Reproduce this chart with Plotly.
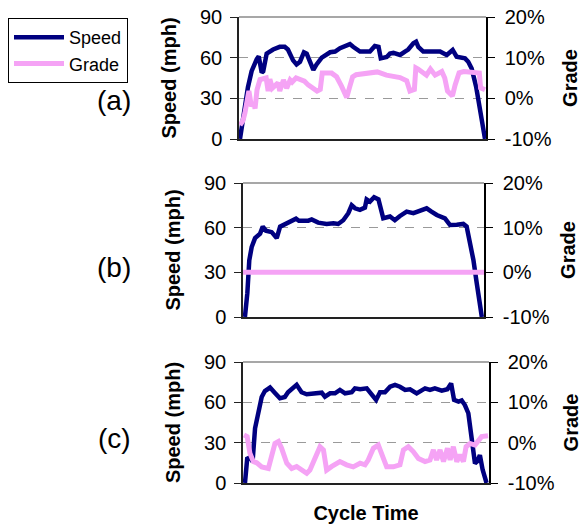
import plotly.graph_objects as go

W, H = 582, 525

# ---------------- data (cycle time normalised 0-100) ----------------
# Panel (a)
time_speed_a = [0.4, 1.5, 2.5, 3.6, 5.1, 6.5, 7.2, 8.0, 9.2, 9.8, 11.2, 13.8, 16.5, 18.5, 19.8, 21.9, 23.3,
                24.7, 26.3, 27.4, 29.0, 30.1, 31.4, 33.5, 36.9, 38.9, 40.9, 44.9, 46.2, 49.0, 53.0, 55.0,
                56.5, 57.4, 59.8, 61.1, 62.5, 65.2, 67.2, 68.5, 70.6, 71.7, 72.6, 74.6, 77.3, 81.4, 84.1,
                86.5, 88.1, 90.1, 91.5, 92.8, 94.2, 96.0, 97.6, 98.9, 99.6]
speed_a = [0, 14, 26, 38, 50, 57, 59, 61, 49, 50, 63, 66, 68, 68, 66, 58, 55,
           57, 64, 63, 55, 51, 55, 60, 64, 64.5, 67, 70, 68, 64.5, 64.5, 68.6,
           68, 59.5, 60.5, 63, 63.5, 62, 64.5, 66, 70.6, 71.8, 68, 64.5, 64.5, 64.5, 62,
           65.7, 60.7, 60, 59.5, 57, 52, 38.6, 21, 6.6, 0]
time_grade_a = [0.4, 1.6, 2.4, 3.3, 4.0, 5.0, 5.8, 6.5, 7.3, 8.5, 11.0, 11.8, 12.5, 13.5, 15.8, 16.5, 18.0,
                19.3, 20.7, 21.5, 23.1, 26.5, 28.0, 31.6, 32.9, 33.7, 34.9, 35.4, 37.5, 39.5, 41.5, 43.6,
                44.9, 46.0, 47.4, 51.5, 56.0, 59.7, 62.6, 65.2, 67.9, 69.2, 71.0, 71.6, 72.5, 75.9, 77.5,
                79.4, 82.1, 83.3, 84.4, 86.4, 87.5, 89.1, 91.0, 93.9, 97.3, 97.8, 99.6]
grade_a = [-6.6, -5.5, -3.6, 0.4, 1.8, -2.0, -1.0, -2.5, 2.1, 4.6, 5.0, 1.8, 4.7, 2.5, 3.8, 1.8, 4.5,
           2.5, 4.5, 4.0, 5.0, 4.2, 3.3, 1.8, 2.2, 6.2, 6.0, 6.2, 6.2, 5.3, 3.0, 0.2,
           3.0, 5.3, 5.8, 6.0, 6.5, 5.7, 5.4, 5.1, 4.3, 1.8, 2.2, 7.5, 7.2, 5.7, 7.2,
           5.7, 6.6, 5.0, 1.8, 0.6, 3.3, 6.3, 6.6, 6.4, 6.2, 2.6, 2.1]

# Panel (b)
time_speed_b = [0.8, 1.8, 2.6, 3.6, 5.0, 7.1, 8.2, 9.5, 11.9, 13.3, 14.0, 15.4, 18.1, 20.9, 22.0, 23.2,
                27.1, 28.5, 31.2, 34.7, 37.5, 39.5, 41.6, 43.7, 45.1, 46.5, 48.5, 50.6, 51.3, 52.7, 54.4,
                56.2, 57.1, 58.2, 61.0, 63.0, 65.0, 67.9, 70.7, 74.8, 76.2, 78.2, 80.4, 83.8, 85.9, 88.7,
                91.4, 92.8, 94.2, 95.6, 97.0, 98.1, 99.1]
speed_b = [0, 16, 38, 47, 53, 56, 60.7, 58, 57, 55, 53, 60.7, 63, 65, 66, 64.6,
           64.7, 65.5, 63.4, 62.5, 63, 62.5, 65, 69.7, 75, 73, 72, 73.5, 79, 77.5, 80.4,
           79, 72, 66.3, 67.5, 65, 67.7, 70.8, 69.8, 72, 73, 70.8, 68.5, 66.3, 61.8, 62,
           62.5, 60.7, 49.5, 38.3, 22.6, 9.2, 0]
time_grade_b = [0.0, 100.0]
grade_b = [0, 0]

# Panel (c)
time_speed_c = [0.8, 1.7, 2.8, 3.9, 4.9, 6.2, 7.6, 8.9, 11.0, 13.0, 15.0, 17.0, 18.3, 21.8, 23.8, 25.9,
                30.0, 32.0, 33.3, 35.4, 37.4, 39.4, 41.5, 44.2, 45.5, 47.6, 50.3, 52.3, 54.1, 55.7, 57.7,
                59.8, 61.8, 63.8, 65.9, 67.9, 70.6, 74.0, 76.0, 78.0, 80.8, 83.1, 84.6, 85.8, 87.6, 88.9,
                90.2, 91.6, 92.6, 93.4, 94.3, 95.2, 96.3, 97.4, 99.0]
speed_c = [0, 18, 19, 16, 40.7, 52, 64, 68.4, 71, 67, 63, 64, 67.5, 73, 67.5, 66,
           66.7, 67.2, 64.2, 66.7, 66.7, 69.2, 66.7, 67.5, 70.4, 69.7, 70.4, 66, 61.8, 67.5, 67.5,
           71.6, 73, 71.6, 69.2, 69.7, 66.7, 70.4, 69.2, 70.4, 68.7, 69.7, 74, 61.8, 60.5, 61.4,
           58, 51.9, 39.4, 25.8, 14.6, 16, 20.8, 10, 0]
time_grade_c = [0.4, 1.7, 2.8, 4.2, 5.6, 7.6, 10.3, 11.7, 13.0, 14.4, 15.7, 17.8, 19.8, 21.8, 23.9, 25.9,
                27.2, 29.3, 31.3, 32.7, 34.0, 36.1, 39.4, 42.1, 44.8, 47.6, 49.6, 50.9, 53.0, 55.0, 56.3,
                58.4, 61.1, 63.8, 65.2, 67.2, 69.2, 71.3, 74.0, 76.0, 77.4, 78.7, 80.1, 81.5, 83.1, 84.2,
                85.5, 86.9, 88.2, 89.6, 90.7, 92.3, 94.3, 95.7, 97.0, 99.6]
grade_c = [1.9, 1.5, -2.6, -4.7, -5.0, -6.0, -6.4, -2.6, -0.2, 0.3, -1.4, -5.1, -6.4, -5.9, -6.8, -7.6,
           -6.8, -3.5, -1.0, -1.8, -6.8, -5.9, -4.7, -5.5, -6.0, -5.1, -5.5, -4.3, -1.4, -0.6, -2.6,
           -6.0, -6.0, -5.5, -1.8, -1.0, -2.2, -3.9, -4.7, -4.3, -1.8, -4.3, -1.8, -4.7, -1.4, -4.3,
           -1.0, -4.7, -3.0, -4.7, -1.0, -0.2, -0.6, 0.3, 1.5, 1.7]

speed_ticks = [0, 30, 60, 90]
grade_ticks = [-10, 0, 10, 20]
grade_tick_labels = ["-10%", "0%", "10%", "20%"]
panel_labels = ["(a)", "(b)", "(c)"]

# ---------------- layout geometry (pixels) ----------------
panels = [
    dict(x0=239, x1=486, y0=17, y1=139),
    dict(x0=243, x1=484, y0=183, y1=317),
    dict(x0=243, x1=489, y0=362, y1=483),
]
label_y = [101, 267, 438]

SPEED_COLOR = "#000080"
GRADE_COLOR = "#F5A3F5"
FONT = "Liberation Sans, Arial, sans-serif"

fig = go.Figure()

data = [
    (time_speed_a, speed_a, time_grade_a, grade_a),
    (time_speed_b, speed_b, time_grade_b, grade_b),
    (time_speed_c, speed_c, time_grade_c, grade_c),
]

layout = dict(
    width=W, height=H,
    margin=dict(l=0, r=0, t=0, b=0, autoexpand=False),
    paper_bgcolor="white", plot_bgcolor="white",
    font=dict(family=FONT, size=20, color="black"),
    showlegend=True,
    legend=dict(
        x=8 / W, y=1 - 18 / H, xanchor="left", yanchor="top",
        bordercolor="black", borderwidth=1, bgcolor="white",
        font=dict(family=FONT, size=18, color="black"),
        tracegroupgap=0, itemwidth=50, entrywidth=128,
    ),
)

shapes = []
annotations = []

for i, (p, (ts, sp, tg, gr)) in enumerate(zip(panels, data)):
    n = i + 1
    xa = "x" if n == 1 else f"x{n}"
    yl_idx = 2 * i + 1
    yr_idx = 2 * i + 2
    yl = "y" if yl_idx == 1 else f"y{yl_idx}"
    yr = f"y{yr_idx}"

    fig.add_trace(go.Scatter(x=tg, y=gr, mode="lines", name="Grade",
                             line=dict(color=GRADE_COLOR, width=5),
                             xaxis=xa, yaxis=yr, showlegend=False, legendrank=2))
    fig.add_trace(go.Scatter(x=ts, y=sp, mode="lines", name="Speed",
                             line=dict(color=SPEED_COLOR, width=4.5),
                             xaxis=xa, yaxis=yl, showlegend=(i == 0), legendrank=1))
    if i == 0:
        fig.add_trace(go.Scatter(x=[None], y=[None], mode="lines", name="Grade",
                                 line=dict(color=GRADE_COLOR, width=5),
                                 xaxis=xa, yaxis=yr, showlegend=True, legendrank=2))

    xdom = [p["x0"] / W, p["x1"] / W]
    ydom = [1 - p["y1"] / H, 1 - p["y0"] / H]
    xkey = "xaxis" if n == 1 else f"xaxis{n}"
    ylkey = "yaxis" if yl_idx == 1 else f"yaxis{yl_idx}"
    yrkey = f"yaxis{yr_idx}"

    layout[xkey] = dict(
        domain=xdom, anchor=yl, range=[0, 100], automargin=False,
        showticklabels=False, ticks="", showgrid=False, zeroline=False,
        showline=True, linecolor="#222", linewidth=1.5,
        title=dict(text="<b>Cycle Time</b>" if n == 3 else "",
                   font=dict(size=20), standoff=22),
    )
    layout[ylkey] = dict(
        domain=ydom, anchor=xa, range=[0, 90], automargin=False,
        tickvals=speed_ticks, ticks="outside", ticklen=7, tickcolor="#222",
        showline=True, linecolor="#222", linewidth=1.5,
        showgrid=True, gridcolor="#9a9a9a", griddash="dash", gridwidth=1,
        zeroline=False, ticklabelstandoff=4,
        tickfont=dict(size=20),
        title=dict(text="<b>Speed (mph)</b>", font=dict(size=20), standoff=18),
    )
    layout[yrkey] = dict(
        domain=ydom, anchor=xa, overlaying=yl, side="right", range=[-10, 20],
        automargin=False,
        tickmode="array", tickvals=grade_ticks, ticktext=grade_tick_labels,
        ticks="outside", ticklen=7, tickcolor="black",
        showline=True, linecolor="black", linewidth=1.5,
        showgrid=False, zeroline=False, ticklabelstandoff=6,
        tickfont=dict(size=20),
        title=dict(text="<b>Grade</b>", font=dict(size=20), standoff=12),
    )
    shapes.append(dict(type="line", xref=f"{xa} domain", yref=f"{yl} domain",
                       x0=0, x1=1, y0=1, y1=1, line=dict(color="#8a8a8a", width=1.5)))
    annotations.append(dict(text=panel_labels[i], x=114 / W, y=1 - label_y[i] / H,
                            xref="paper", yref="paper", showarrow=False,
                            font=dict(size=28, family=FONT, color="black"),
                            xanchor="center", yanchor="middle"))

layout["shapes"] = shapes
layout["annotations"] = annotations
fig.update_layout(**layout)

fig.write_html("out.html")
